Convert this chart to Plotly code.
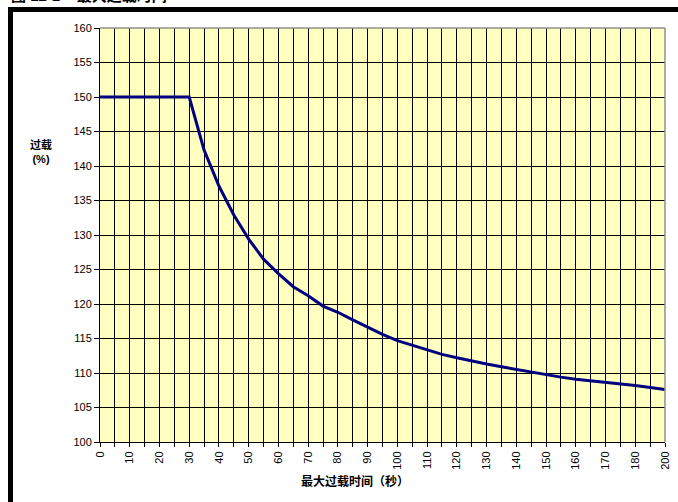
import plotly.graph_objects as go

# Data
categories = [str(v) for v in list(range(0, 185, 5)) + [190, 200]]
overload = [150, 150, 150, 150, 150, 150, 150,
            142.3, 137.1, 132.9, 129.4, 126.5, 124.4, 122.5, 121.2, 119.7, 118.8,
            117.7, 116.6, 115.6, 114.7, 114.0, 113.4, 112.7, 112.2, 111.7, 111.3,
            110.9, 110.5, 110.2, 109.8, 109.4, 109.1, 108.9, 108.7, 108.5, 108.2,
            107.9, 107.6]
tick_text = [c if i % 2 == 0 else "" for i, c in enumerate(categories)]
y_ticks = list(range(100, 165, 5))

FONT = "Arial, Liberation Sans, Noto Sans CJK SC"

fig = go.Figure()
fig.add_trace(go.Scatter(x=categories, y=overload, mode="lines",
                         line=dict(color="#000080", width=3), hoverinfo="skip"))

W, H = 678, 502
L, R, T, B = 100, 13, 28, 60
pw, ph = W - L - R, H - T - B

def px(x):
    return (x - L) / pw

def py(y):
    return (H - B - y) / ph

fig.update_layout(
    width=W, height=H,
    margin=dict(l=L, r=R, t=T, b=B, autoexpand=False),
    paper_bgcolor="white", plot_bgcolor="#FFFFC0",
    showlegend=False,
    font=dict(family=FONT, size=11, color="black"),
    xaxis=dict(type="category", categoryorder="array", categoryarray=categories,
               range=[0, len(categories) - 1],
               tickmode="array", tickvals=categories, ticktext=tick_text,
               tickangle=-90, ticks="outside", ticklen=4, tickcolor="black",
               showline=True, linecolor="black", linewidth=1,
               showgrid=True, gridcolor="black", gridwidth=1,
               tickfont=dict(family=FONT, size=11), zeroline=False),
    yaxis=dict(range=[100, 160], tickvals=y_ticks,
               ticks="outside", ticklen=5, tickcolor="black",
               showline=True, linecolor="black", linewidth=1,
               showgrid=True, gridcolor="black", gridwidth=1,
               tickfont=dict(family=FONT, size=11), zeroline=False),
    shapes=[
        dict(type="line", xref="paper", yref="paper", x0=0, x1=1, y0=1, y1=1,
             line=dict(color="#909090", width=1.5)),
        dict(type="line", xref="paper", yref="paper", x0=1, x1=1, y0=0, y1=1,
             line=dict(color="#909090", width=1.5)),
        dict(type="line", xref="paper", yref="paper", x0=px(8), x1=px(700),
             y0=py(9.5), y1=py(9.5), line=dict(color="black", width=5)),
        dict(type="line", xref="paper", yref="paper", x0=px(10.5), x1=px(10.5),
             y0=py(7), y1=py(520), line=dict(color="black", width=5)),
    ],
    annotations=[
        dict(text="<b>图 12-1    最大过载时间</b>", xref="paper", yref="paper",
             x=px(9), y=py(6), xanchor="left", yanchor="bottom", showarrow=False,
             font=dict(family=FONT, size=15, color="black")),
        dict(text="<b>过载<br>(%)</b>", xref="paper", yref="paper",
             x=px(41), y=py(151), xanchor="center", yanchor="middle", showarrow=False,
             font=dict(family=FONT, size=11, color="black")),
        dict(text="<b>最大过载时间（秒）</b>", xref="paper", yref="paper",
             x=px(355), y=py(481), xanchor="center", yanchor="middle", showarrow=False,
             font=dict(family=FONT, size=12, color="black")),
    ],
)

fig.write_html("out.html", config={"displayModeBar": False},
               post_script="document.body.style.margin='0px';document.body.style.overflow='hidden';")
